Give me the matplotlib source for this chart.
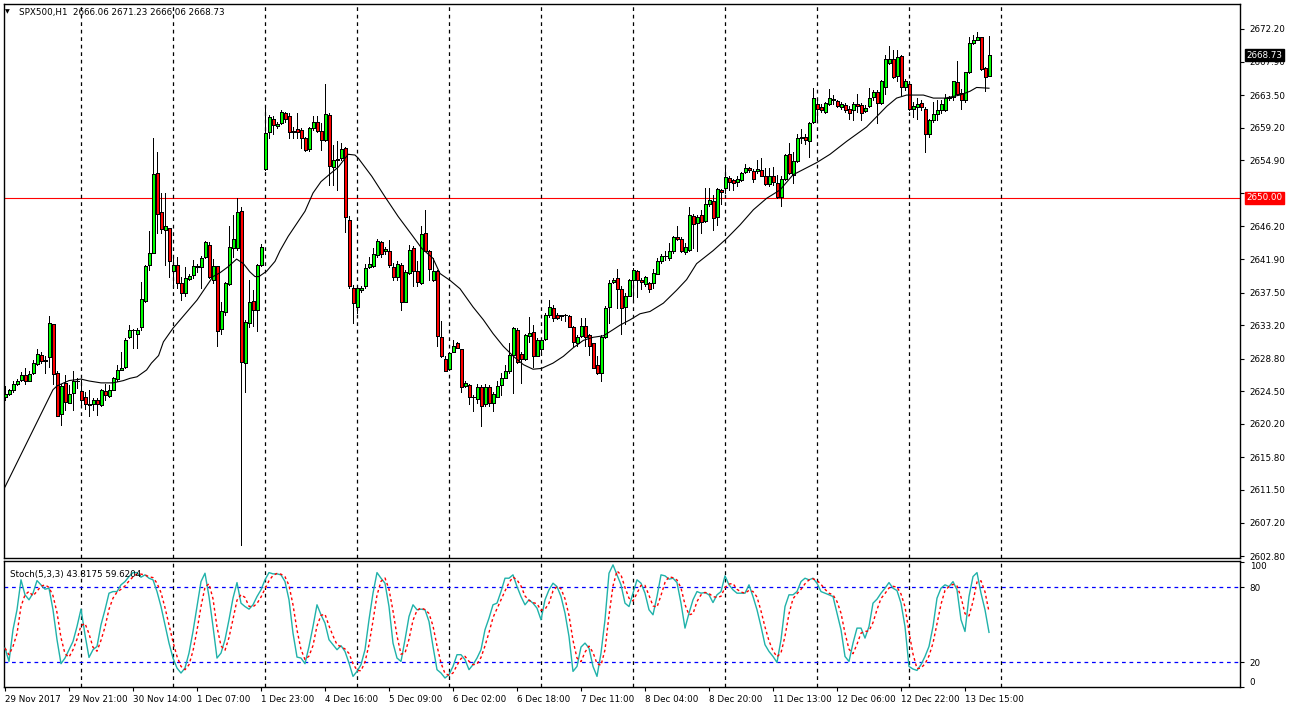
import matplotlib
matplotlib.use("Agg")
import matplotlib.pyplot as plt
import matplotlib.transforms as mtransforms
import numpy as np
import pandas as pd

# ---- data (SPX500, H1) ----
opens = [
    2623.7, 2624.1, 2624.7, 2625.5, 2626.0, 2626.6, 2625.9, 2626.9, 2628.1, 2629.3,
    2628.5, 2629.0, 2633.3, 2626.9, 2621.5, 2625.6, 2623.0, 2624.3, 2625.8, 2624.5,
    2623.7, 2622.8, 2622.8, 2623.4, 2622.7, 2624.5, 2623.9, 2624.7, 2626.1, 2627.3,
    2627.7, 2631.6, 2632.6, 2632.1, 2632.9, 2636.4, 2641.1, 2642.7, 2653.3, 2648.1,
    2645.7, 2646.0, 2640.3, 2641.1, 2638.8, 2637.5, 2639.3, 2639.8, 2641.0, 2640.8,
    2642.2, 2643.8, 2639.2, 2641.0, 2632.7, 2634.9, 2638.6, 2643.4, 2643.3, 2648.2,
    2628.2, 2633.5, 2636.4, 2635.2, 2641.1, 2653.7, 2658.7, 2660.4, 2659.4, 2659.8,
    2661.1, 2660.7, 2658.8, 2659.0, 2658.9, 2657.8, 2656.4, 2659.1, 2659.9, 2658.8,
    2657.6, 2660.9, 2654.0, 2655.0, 2655.2, 2656.5, 2647.1, 2638.1, 2635.6, 2637.8,
    2638.3, 2640.8, 2641.0, 2642.4, 2644.1, 2642.9, 2643.0, 2640.9, 2639.5, 2641.1,
    2636.3, 2640.1, 2643.3, 2640.3, 2638.8, 2645.3, 2642.9, 2639.2, 2640.3, 2631.7,
    2628.8, 2627.4, 2629.7, 2630.9, 2630.0, 2625.2, 2625.3, 2623.7, 2623.5, 2625.1,
    2622.8, 2625.1, 2623.0, 2623.8, 2625.3, 2626.3, 2627.1, 2629.3, 2632.6, 2629.4,
    2628.7, 2631.8, 2632.3, 2629.1, 2630.0, 2631.4, 2634.5, 2635.4, 2634.5, 2634.4,
    2634.5, 2634.4, 2633.0, 2630.8, 2631.8, 2633.1, 2631.9, 2630.8, 2628.0, 2626.9,
    2631.6, 2635.6, 2638.9, 2639.4, 2638.0, 2635.6, 2637.1, 2639.2, 2640.3, 2639.2,
    2638.6, 2638.7, 2638.7, 2640.0, 2641.6, 2642.3, 2642.0, 2642.9, 2644.8, 2644.6,
    2642.8, 2643.1, 2647.6, 2646.6, 2647.7, 2646.9, 2649.2, 2649.5, 2647.5, 2651.0,
    2651.2, 2652.6, 2652.3, 2652.1, 2652.3, 2653.4, 2653.9, 2653.5, 2653.5, 2653.6,
    2652.8, 2651.8, 2652.8, 2651.9, 2650.1, 2652.5, 2655.8, 2653.0, 2654.8, 2657.9,
    2658.0, 2657.5, 2659.9, 2662.3, 2661.9, 2661.3, 2662.3, 2663.0, 2662.7, 2661.9,
    2662.2, 2661.7, 2661.5, 2662.3, 2662.2, 2661.4, 2662.0, 2663.2, 2663.9, 2662.4,
    2664.5, 2667.7, 2668.2, 2666.0, 2668.6, 2664.5, 2665.0, 2661.6, 2661.9, 2662.5,
    2661.7, 2658.4, 2660.2, 2661.0, 2661.5, 2661.5, 2663.1, 2663.3, 2665.2, 2663.8,
    2662.8, 2666.6, 2670.3, 2670.8, 2671.1, 2667.1, 2666.06,
]
highs = [
    2625.2, 2624.8, 2625.8, 2626.1, 2627.0, 2627.5, 2627.1, 2628.6, 2630.0, 2629.6,
    2629.1, 2634.4, 2633.4, 2627.1, 2625.5, 2626.6, 2625.3, 2627.2, 2626.2, 2626.0,
    2624.4, 2624.7, 2623.6, 2623.6, 2624.8, 2625.5, 2625.3, 2626.4, 2628.0, 2629.7,
    2631.5, 2633.2, 2632.7, 2632.8, 2638.9, 2641.1, 2645.6, 2657.8, 2656.0, 2650.6,
    2650.6, 2646.0, 2642.2, 2642.2, 2639.6, 2640.9, 2640.0, 2641.8, 2641.3, 2642.3,
    2644.3, 2644.1, 2641.9, 2641.0, 2636.3, 2638.9, 2646.2, 2647.7, 2650.0, 2648.7,
    2633.9, 2639.1, 2637.8, 2641.3, 2643.9, 2662.2, 2660.9, 2660.7, 2660.0, 2661.5,
    2661.3, 2661.1, 2659.3, 2661.1, 2659.1, 2658.0, 2659.3, 2660.7, 2660.7, 2659.8,
    2665.0, 2661.1, 2656.9, 2657.4, 2657.2, 2656.7, 2647.6, 2638.5, 2638.3, 2638.3,
    2641.3, 2642.2, 2643.3, 2644.5, 2644.3, 2643.5, 2644.4, 2641.4, 2641.6, 2641.4,
    2640.5, 2643.8, 2643.6, 2641.6, 2646.3, 2648.4, 2643.1, 2642.1, 2640.5, 2633.8,
    2629.1, 2629.7, 2631.2, 2631.0, 2630.1, 2625.8, 2625.5, 2624.0, 2625.5, 2625.3,
    2625.5, 2625.3, 2624.4, 2625.8, 2626.9, 2627.9, 2630.8, 2633.0, 2632.8, 2629.7,
    2632.0, 2634.3, 2633.2, 2631.5, 2631.5, 2634.8, 2636.5, 2635.9, 2634.8, 2634.6,
    2634.7, 2634.5, 2633.1, 2631.9, 2634.2, 2634.2, 2632.0, 2630.9, 2629.1, 2631.9,
    2635.7, 2639.2, 2639.4, 2640.6, 2638.3, 2637.5, 2639.3, 2640.7, 2640.5, 2639.4,
    2639.7, 2638.9, 2640.6, 2642.0, 2642.6, 2642.9, 2644.0, 2644.9, 2646.2, 2644.8,
    2644.0, 2648.7, 2647.9, 2647.7, 2648.4, 2651.2, 2651.2, 2650.3, 2651.2, 2651.1,
    2654.1, 2652.8, 2652.5, 2652.8, 2653.4, 2654.4, 2654.0, 2653.7, 2655.0, 2655.2,
    2653.9, 2653.9, 2654.0, 2653.0, 2652.8, 2655.8, 2657.2, 2656.0, 2658.4, 2659.0,
    2658.4, 2660.0, 2664.4, 2662.9, 2662.3, 2662.6, 2664.3, 2663.5, 2662.9, 2662.6,
    2662.5, 2662.0, 2662.6, 2663.7, 2662.4, 2662.2, 2664.4, 2664.2, 2664.2, 2665.5,
    2668.8, 2669.9, 2669.4, 2669.4, 2668.8, 2665.6, 2665.3, 2662.6, 2663.1, 2662.9,
    2661.9, 2660.4, 2662.6, 2662.9, 2662.9, 2663.7, 2663.4, 2665.4, 2668.0, 2664.3,
    2666.6, 2671.2, 2671.4, 2671.8, 2671.2, 2667.2, 2671.23,
]
lows = [
    2623.4, 2624.0, 2624.4, 2625.3, 2625.8, 2625.5, 2625.8, 2626.8, 2628.0, 2628.2,
    2626.9, 2627.7, 2625.5, 2621.2, 2620.1, 2622.0, 2622.9, 2622.0, 2624.9, 2622.5,
    2622.2, 2621.2, 2622.0, 2621.4, 2622.5, 2623.4, 2623.7, 2624.7, 2625.9, 2627.3,
    2627.6, 2631.5, 2630.2, 2630.2, 2632.6, 2636.3, 2640.5, 2642.7, 2645.3, 2645.3,
    2641.1, 2639.6, 2638.1, 2638.1, 2636.5, 2637.0, 2639.1, 2639.4, 2640.2, 2638.1,
    2642.0, 2639.4, 2638.7, 2630.5, 2632.1, 2634.5, 2638.5, 2642.2, 2643.1, 2604.3,
    2624.4, 2633.0, 2633.1, 2632.4, 2641.0, 2653.6, 2657.9, 2658.4, 2659.1, 2659.7,
    2660.0, 2657.8, 2657.8, 2657.8, 2656.5, 2656.1, 2656.1, 2658.9, 2658.6, 2656.3,
    2657.4, 2651.6, 2651.6, 2651.0, 2655.0, 2645.5, 2638.1, 2633.5, 2634.8, 2637.6,
    2638.1, 2640.7, 2640.9, 2642.2, 2642.2, 2642.6, 2640.9, 2639.2, 2639.2, 2635.2,
    2636.2, 2640.0, 2638.3, 2638.3, 2638.6, 2642.9, 2639.2, 2639.0, 2630.4, 2629.0,
    2627.1, 2627.3, 2629.6, 2630.2, 2624.4, 2625.1, 2622.8, 2621.9, 2622.9, 2619.9,
    2622.6, 2622.6, 2621.9, 2623.7, 2624.0, 2626.2, 2626.9, 2624.3, 2628.2, 2625.6,
    2628.6, 2631.0, 2627.7, 2629.1, 2629.4, 2631.3, 2634.3, 2633.7, 2634.0, 2633.9,
    2633.8, 2632.9, 2630.4, 2630.4, 2631.6, 2630.4, 2629.3, 2627.5, 2626.8, 2625.8,
    2631.5, 2633.5, 2638.8, 2635.4, 2632.0, 2633.4, 2637.0, 2636.7, 2636.9, 2638.0,
    2638.3, 2637.6, 2638.1, 2639.9, 2641.4, 2641.8, 2641.8, 2642.7, 2644.4, 2642.8,
    2642.6, 2643.0, 2643.4, 2643.0, 2645.3, 2646.8, 2648.9, 2645.7, 2646.4, 2649.2,
    2650.6, 2651.0, 2651.0, 2651.5, 2652.2, 2653.3, 2653.4, 2652.1, 2653.2, 2652.8,
    2651.7, 2651.5, 2651.7, 2650.0, 2648.9, 2652.3, 2653.1, 2651.9, 2654.7, 2657.2,
    2657.1, 2655.4, 2659.8, 2660.1, 2661.3, 2661.2, 2662.2, 2662.3, 2661.9, 2661.7,
    2661.3, 2660.4, 2660.2, 2661.3, 2660.2, 2661.3, 2661.9, 2662.9, 2659.8, 2662.3,
    2663.7, 2667.6, 2665.8, 2665.3, 2663.5, 2664.2, 2661.5, 2660.6, 2660.4, 2661.5,
    2656.0, 2658.0, 2660.0, 2660.2, 2661.2, 2661.4, 2662.9, 2662.9, 2663.5, 2661.6,
    2662.6, 2666.4, 2670.2, 2670.8, 2666.8, 2664.0, 2666.06,
]
closes = [
    2624.2, 2624.6, 2625.5, 2625.9, 2626.6, 2625.8, 2626.8, 2628.2, 2629.4, 2628.5,
    2628.6, 2633.5, 2626.8, 2621.2, 2625.2, 2623.1, 2624.1, 2625.8, 2625.9, 2623.4,
    2622.8, 2622.7, 2623.4, 2622.8, 2624.6, 2624.0, 2624.7, 2626.2, 2627.3, 2627.6,
    2631.3, 2632.6, 2632.5, 2632.6, 2636.7, 2641.0, 2642.7, 2653.1, 2647.9, 2645.8,
    2646.3, 2641.6, 2641.1, 2638.7, 2637.4, 2639.4, 2639.7, 2641.0, 2640.8, 2642.1,
    2644.2, 2639.5, 2641.0, 2632.4, 2635.1, 2638.7, 2643.5, 2644.6, 2648.1, 2628.3,
    2633.6, 2636.3, 2635.2, 2641.1, 2643.5, 2658.5, 2660.6, 2659.6, 2659.7, 2661.3,
    2660.4, 2658.7, 2658.6, 2658.7, 2657.9, 2656.3, 2659.1, 2659.9, 2658.8, 2657.6,
    2661.0, 2654.1, 2655.0, 2655.1, 2656.4, 2647.4, 2638.3, 2636.1, 2638.1, 2638.1,
    2640.7, 2641.3, 2642.6, 2644.3, 2642.6, 2643.2, 2641.1, 2639.6, 2641.3, 2636.2,
    2640.2, 2643.1, 2640.3, 2638.9, 2645.2, 2643.0, 2640.6, 2640.3, 2631.8, 2629.1,
    2627.2, 2629.5, 2630.5, 2630.2, 2625.0, 2625.6, 2623.7, 2623.8, 2625.0, 2622.6,
    2625.1, 2623.0, 2624.1, 2625.2, 2626.2, 2627.2, 2629.3, 2632.8, 2628.3, 2628.8,
    2631.9, 2632.2, 2629.1, 2631.2, 2631.3, 2634.6, 2635.6, 2634.2, 2634.1, 2634.5,
    2634.5, 2633.0, 2631.0, 2631.7, 2633.1, 2631.7, 2630.5, 2627.6, 2626.9, 2631.7,
    2635.5, 2638.8, 2639.2, 2638.0, 2635.4, 2637.0, 2639.2, 2640.5, 2639.1, 2638.9,
    2639.5, 2637.9, 2640.1, 2641.7, 2642.3, 2642.3, 2642.9, 2644.8, 2644.6, 2642.9,
    2643.5, 2647.7, 2646.5, 2647.4, 2646.8, 2649.2, 2649.7, 2647.3, 2651.1, 2650.7,
    2652.7, 2652.0, 2651.9, 2652.5, 2653.3, 2653.9, 2653.6, 2652.5, 2653.8, 2652.8,
    2651.8, 2652.8, 2652.0, 2650.1, 2652.5, 2655.6, 2653.2, 2654.8, 2657.9, 2658.0,
    2657.6, 2659.8, 2663.1, 2661.7, 2661.5, 2662.5, 2663.1, 2662.8, 2662.1, 2662.3,
    2661.5, 2661.2, 2662.3, 2662.0, 2661.2, 2661.8, 2663.1, 2663.9, 2662.5, 2665.4,
    2668.2, 2668.2, 2665.9, 2668.5, 2664.5, 2665.3, 2661.6, 2662.0, 2662.3, 2661.9,
    2658.4, 2660.2, 2661.0, 2661.5, 2662.3, 2663.1, 2663.2, 2665.3, 2663.7, 2662.9,
    2666.5, 2670.3, 2670.7, 2671.1, 2666.9, 2665.9, 2668.73,
]

# moving average line, sampled along its path (bar position, price)
ma_bar = [0, 12, 13, 16, 19, 21, 24, 27, 29.6, 31.25, 33, 35.4, 36.6, 38.4, 39.6, 42,
          48, 52, 53.75, 55.8, 57.9, 59.6, 61.25, 62.5, 63.5, 65.4, 67.5, 68.75, 70.8,
          75, 77, 79, 81, 83.3, 85.8, 87.5, 88.3, 91.7, 95, 98.3, 101.7, 104.2, 107,
          108.75, 111.25, 113.75, 117, 119.6, 122, 124.6, 127.1, 129.6, 132, 134.1,
          137, 139.6, 142, 144.6, 147, 149.6, 152, 153.75, 156.25, 158.75, 161.25,
          164.6, 167.9, 170.4, 172.9, 177, 180.4, 183.75, 187.1, 190.4, 193.75, 197,
          202.9, 206.25, 210.4, 215.4, 218, 220.4, 222.9, 225.4, 229.6, 232.1, 235,
          238.75, 241.25, 242.9, 246]
ma_val = [2611.9, 2624.7, 2625.2, 2625.9, 2626.1, 2625.85, 2625.6, 2625.6, 2625.9,
          2626.2, 2626.4, 2627.3, 2628.2, 2629.2, 2631.0, 2632.8, 2636.5, 2639.6,
          2640.1, 2640.9, 2641.9, 2641.3, 2640.2, 2639.6, 2639.6, 2640.3, 2641.6,
          2643.0, 2644.9, 2648.2, 2650.6, 2652.1, 2653.0, 2654.0, 2655.7, 2655.6,
          2655.2, 2652.8, 2650.1, 2647.5, 2645.1, 2643.3, 2642.0, 2640.0, 2639.1,
          2638.0, 2635.6, 2633.9, 2632.1, 2630.4, 2629.1, 2628.0, 2627.4, 2627.5,
          2628.2, 2629.1, 2630.2, 2631.2, 2631.6, 2631.8, 2632.6, 2633.2, 2633.9,
          2634.7, 2635.0, 2636.1, 2637.8, 2639.2, 2641.3, 2643.0, 2644.6, 2646.4,
          2648.4, 2649.9, 2651.0, 2653.0, 2654.6, 2655.7, 2657.4, 2659.3, 2660.7,
          2662.0, 2663.1, 2663.5, 2663.5, 2663.1, 2663.1, 2663.5, 2664.0, 2664.5,
          2664.4]

# Stochastic %K (main line)
stoch_k = [
    31.2, 20.5, 45.9, 61.9, 85.9, 73.9, 69.9, 75.2, 85.3, 81.9,
    78.4, 79.2, 61.9, 37.9, 18.7, 23.2, 29.9, 36.5, 48.5, 62.4,
    41.9, 23.7, 29.9, 32.5, 49.9, 61.9, 75.2, 76.5, 76.5, 81.9,
    84.5, 88.5, 91.7, 91.7, 88.0, 89.9, 87.2, 85.9, 76.5, 64.5,
    49.9, 35.2, 23.2, 15.2, 11.2, 15.2, 27.2, 44.5, 64.5, 84.5,
    91.2, 72.5, 48.5, 23.2, 27.2, 37.9, 53.9, 71.2, 83.7, 67.2,
    64.5, 62.4, 65.9, 72.5, 77.9, 85.9, 91.7, 90.7, 90.7, 89.9,
    84.5, 69.9, 43.2, 24.0, 23.2, 18.7, 32.5, 48.5, 65.9, 57.9,
    51.2, 37.9, 33.9, 29.9, 33.1, 28.5, 19.2, 8.5, 12.5, 17.9,
    29.9, 53.9, 75.2, 91.7, 87.2, 83.2, 64.5, 35.2, 23.2, 20.5,
    37.9, 56.5, 65.9, 61.9, 62.4, 61.9, 52.5, 32.5, 13.9, 11.2,
    7.2, 9.9, 16.5, 25.9, 25.9, 21.9, 13.9, 17.9, 23.2, 29.9,
    45.9, 55.2, 65.9, 67.2, 76.5, 87.2, 87.2, 89.9, 80.5, 72.5,
    65.9, 69.9, 67.2, 63.2, 53.9, 69.9, 77.9, 83.2, 80.5, 72.5,
    59.2, 40.5, 12.5, 16.5, 32.0, 35.2, 31.2, 16.5, 8.5, 27.2,
    53.9, 91.2, 97.9, 89.9, 81.9, 67.2, 64.5, 75.2, 85.9, 83.2,
    75.2, 61.9, 57.9, 72.5, 89.9, 89.1, 86.4, 87.2, 83.7, 67.2,
    47.2, 59.2, 69.9, 76.5, 75.2, 75.7, 73.9, 67.7, 73.9, 76.5,
    89.1, 81.9, 77.9, 75.2, 75.2, 75.2, 81.9, 72.5, 61.9, 48.5,
    33.9, 28.5, 24.5, 19.7, 37.9, 64.5, 73.9, 73.9, 76.5, 84.5,
    87.2, 85.9, 87.2, 83.2, 76.5, 75.2, 73.9, 72.5, 59.2, 45.9,
    24.5, 20.5, 35.2, 47.2, 47.2, 39.2, 48.5, 67.2, 70.4, 75.2,
    79.2, 83.7, 79.2, 77.3, 67.2, 48.5, 16.5, 14.4, 13.3, 17.9,
    24.5, 32.5, 48.5, 71.2, 79.2, 81.9, 80.5, 84.5, 77.9, 53.9,
    44.5, 72.5, 88.5, 91.7, 75.2, 61.9, 43.8,
]
stoch_last_k = "43.8175"
stoch_last_d = "59.6204"

price_ticks = [2672.20, 2667.90, 2663.50, 2659.20, 2654.90, 2650.60, 2646.20, 2641.90,
               2637.50, 2633.20, 2628.80, 2624.50, 2620.20, 2615.80, 2611.50, 2607.20,
               2602.80]
time_labels = ["29 Nov 2017", "29 Nov 21:00", "30 Nov 14:00", "1 Dec 07:00",
               "1 Dec 23:00", "4 Dec 16:00", "5 Dec 09:00", "6 Dec 02:00",
               "6 Dec 18:00", "7 Dec 11:00", "8 Dec 04:00", "8 Dec 20:00",
               "11 Dec 13:00", "12 Dec 06:00", "12 Dec 22:00", "13 Dec 15:00"]
label_step = 16      # bars between time labels
day_starts = [19, 42, 65, 88, 111, 134, 157, 180, 203, 226, 249]
level_price = 2650.00
last_price = 2668.73

# ---- figure ----
W, H = 1290, 710
fig = plt.figure(figsize=(W / 100, H / 100), dpi=100)
fig.patch.set_facecolor("white")
plt.rcParams["font.family"] = "DejaVu Sans"
FS = 6.3
ONE_PX = 0.72  # one pixel at 100 dpi, in points


def box(px_left, px_top, px_right, px_bottom):
    return [px_left / W, 1 - px_bottom / H, (px_right - px_left) / W, (px_bottom - px_top) / H]


ax = fig.add_axes(box(4, 4, 1240, 558))
ax2 = fig.add_axes(box(4, 561, 1240, 687), sharex=ax)

x = np.arange(len(closes))
o = np.array(opens)
c = np.array(closes)
up = c >= o

# candles: 1px wick, then filled body with a 1px black outline (crisp, like the terminal)
ax.vlines(x, lows, highs, color="black", lw=ONE_PX, zorder=2, antialiased=False)
body_lo = np.minimum(o, c)
body_h = np.maximum(np.abs(c - o), 0.06)
ax.bar(x[up], body_h[up], bottom=body_lo[up], width=0.75, color="#00ff00",
       edgecolor="black", linewidth=ONE_PX, zorder=3, antialiased=False)
ax.bar(x[~up], body_h[~up], bottom=body_lo[~up], width=0.75, color="#ff0000",
       edgecolor="black", linewidth=ONE_PX, zorder=3, antialiased=False)

ax.plot(ma_bar, ma_val, color="black", lw=0.8, zorder=4)
ax.axhline(level_price, color="#ff0000", lw=0.8, zorder=1)

for a in (ax, ax2):
    for d in day_starts:
        a.axvline(d, color="black", lw=0.9, ls=(0, (3, 3)), zorder=1)

ax.set_xlim(-0.25, 308.75)
ax.set_ylim(2602.54, 2675.49)

# right price scale (the 2650.60 label sits under the red level box)
ax.yaxis.tick_right()
ax.set_yticks(price_ticks)
ax.set_yticklabels(["" if abs(v - 2650.60) < 0.01 else f"{v:.2f}" for v in price_ticks])
ax.tick_params(axis="y", length=3, width=0.8, labelsize=FS, pad=4, colors="black")
ax.tick_params(axis="x", bottom=False, labelbottom=False)

tr = mtransforms.blended_transform_factory(ax.transAxes, ax.transData)
ax.text(1.0055, last_price, f"{last_price:.2f}", transform=tr, fontsize=FS, color="white",
        va="center", ha="left", zorder=10,
        bbox=dict(boxstyle="square,pad=0.18", fc="black", ec="black"))
ax.text(1.0055, level_price, f"{level_price:.2f}", transform=tr, fontsize=FS, color="white",
        va="center", ha="left", zorder=10,
        bbox=dict(boxstyle="square,pad=0.18", fc="#ff0000", ec="#ff0000"))

# stochastic
k = pd.Series(stoch_k)
d_line = k.rolling(3, min_periods=1).mean()
ax2.plot(x, k, color="#20b2aa", lw=1, zorder=3)
ax2.plot(x, d_line, color="#ff0000", lw=1, ls=(0, (2, 2)), zorder=3)
for lv in (20, 80):
    ax2.axhline(lv, color="#0000ff", lw=0.9, ls=(0, (3, 3)), zorder=2)
ax2.set_ylim(0.2, 101)
ax2.yaxis.tick_right()
ax2.set_yticks([0, 20, 80, 100])
ax2.set_yticklabels(["0", "20", "80", "100"])
ax2.tick_params(axis="y", length=3, width=0.8, labelsize=FS, pad=4)
ylabels = ax2.get_yticklabels()
ylabels[0].set_va("bottom")
ylabels[-1].set_va("top")
ax2.text(0.005, 0.93, f"Stoch(5,3,3) {stoch_last_k} {stoch_last_d}",
         transform=ax2.transAxes, fontsize=FS, va="top", ha="left")

# time scale
lab_pos = np.arange(len(time_labels)) * label_step
ax2.set_xticks(lab_pos)
ax2.set_xticklabels(time_labels)
ax2.tick_params(axis="x", length=3, width=0.8, labelsize=FS, pad=3)
for t in ax2.get_xticklabels():
    t.set_ha("left")

for a in (ax, ax2):
    for s in a.spines.values():
        s.set_color("black")
        s.set_linewidth(1)

fig.text(5 / W, 1 - 12 / H, "\u25bc", fontsize=4.5, va="center", ha="left")
fig.text(19 / W, 1 - 12 / H, "SPX500,H1  2666.06 2671.23 2666.06 2668.73",
         fontsize=FS, va="center", ha="left")

fig.savefig("out.png", dpi=100, facecolor="white")
